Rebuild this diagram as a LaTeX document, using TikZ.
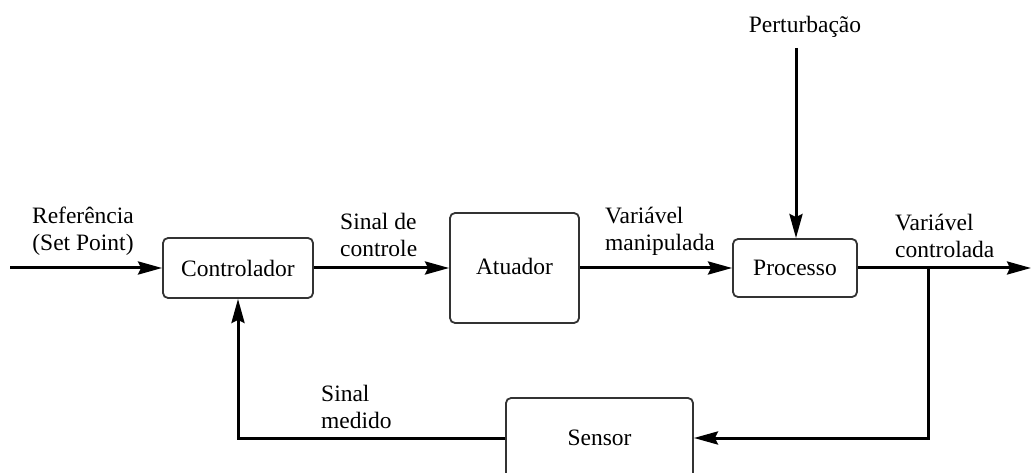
\documentclass[tikz,border=0pt]{standalone}
\usepackage{fontspec}
\setmainfont{Liberation Serif}
\usetikzlibrary{arrows.meta}
\begin{document}
\begin{tikzpicture}[x=1pt,y=-1pt,
 blk/.style={draw=black!80, line width=1.8pt, rounded corners=5pt, inner sep=0pt, font=\fontsize{23.5}{27}\selectfont},
 sig/.style={line width=3pt, -{Stealth[length=24pt,width=13pt,inset=3pt]}},
 lbl/.style={font=\fontsize{23.5}{27}\selectfont, align=left, inner sep=0pt}]
\useasboundingbox[fill=white] (0,0) rectangle (1031,473);
\node[blk, minimum width=150pt, minimum height=60pt] (ctrl) at (238,268) {Controlador};
\node[blk, minimum width=129pt, minimum height=110pt] (atu) at (514.5,268) {\raisebox{4pt}{Atuador}};
\node[blk, minimum width=124pt, minimum height=58pt] (proc) at (795,268) {Processo};
\node[blk, minimum width=187pt, minimum height=80pt] (sens) at (599.5,438) {Sensor};
\coordinate (in) at (10,268);
\coordinate (out) at (1031,268);
\coordinate (branch) at (928,268);
\coordinate (pstart) at (796,48);
\node[lbl, align=center] (ptxt) at (805,27) {Perturbação};
\node[lbl, align=center] (ref) at (83,231) {Referência\\(Set Point)};
\node[lbl, anchor=west] (sc) at (340,235) {Sinal de\\controle};
\node[lbl, anchor=west] (vm) at (605,231) {Variável\\manipulada};
\node[lbl, anchor=west] (vc) at (895,236) {Variável\\controlada};
\node[lbl, anchor=west] (sm) at (321,407) {Sinal\\medido};
\draw[sig] (in) -- (ctrl.west);
\draw[sig] (ctrl.east) -- (atu.west);
\draw[sig] (atu.east) -- (proc.west);
\draw[sig] (proc.east) -- (out);
\draw[sig] (pstart) -- (pstart |- proc.north);
\draw[sig] (branch) |- (sens.east);
\draw[sig] (sens.west) -| (ctrl.south);
\end{tikzpicture}
\end{document}
